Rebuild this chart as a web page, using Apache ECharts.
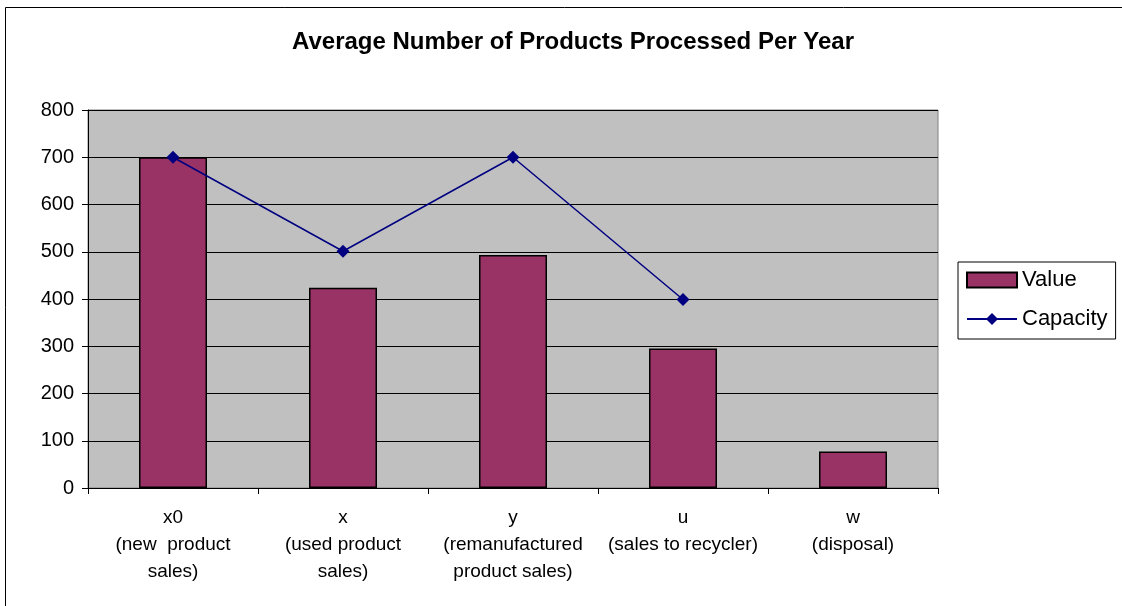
<!DOCTYPE html>
<html><head><meta charset="utf-8">
<script src="https://cdn.jsdelivr.net/npm/echarts@6/dist/echarts.min.js"></script>
<style>html,body{margin:0;padding:0;background:#fff}#c{width:1122px;height:606px}</style>
</head><body><div id="c"></div>
<script>
const categories = ['x0\n(new  product\nsales)', 'x\n(used product\nsales)', 'y\n(remanufactured\nproduct sales)', 'u\n(sales to recycler)', 'w\n(disposal)'];
const valueData = [700, 424, 493, 295, 77];
const capacityData = [700, 501, 700, 399, null];
const yTicks = {min: 0, max: 800, interval: 100};

const chart = echarts.init(document.getElementById('c'), null, {renderer: 'canvas'});
const font = '"Liberation Sans", Arial, sans-serif';
chart.setOption({
  animation: false,
  backgroundColor: '#fff',
  textStyle: {fontFamily: font},
  title: {
    text: 'Average Number of Products Processed Per Year',
    left: 568, top: 25, textAlign: 'center',
    textStyle: {fontFamily: font, fontSize: 24, fontWeight: 'bold', color: '#000'}
  },
  graphic: [{
    type: 'rect', shape: {x: 5.5, y: 7.5, width: 1130, height: 620},
    style: {fill: 'none', stroke: '#000', lineWidth: 1}, silent: true, z: -1
  }],
  legend: {
    orient: 'vertical', left: 958, top: 262,
    padding: [7, 8, 9, 8], itemGap: 17, itemTextGap: 6,
    itemWidth: 50, itemHeight: 15,
    borderColor: '#000', borderWidth: 1,
    textStyle: {fontFamily: font, fontSize: 22, color: '#000'},
    data: [{name: 'Value', icon: 'rect'}, {name: 'Capacity'}]
  },
  grid: {
    left: 88, right: 184, top: 110, bottom: 118,
    show: true, backgroundColor: '#C0C0C0', borderColor: '#808080', borderWidth: 1
  },
  xAxis: {
    type: 'category', data: categories, boundaryGap: true,
    axisLine: {lineStyle: {color: '#000', width: 1}},
    axisTick: {show: true, length: 6, lineStyle: {color: '#000'}},
    axisLabel: {fontFamily: font, fontSize: 19, color: '#000', lineHeight: 27, margin: 16, interval: 0}
  },
  yAxis: {
    type: 'value', min: yTicks.min, max: yTicks.max, interval: yTicks.interval,
    axisLine: {show: true, lineStyle: {color: '#000', width: 1}},
    axisTick: {show: true, length: 6, lineStyle: {color: '#000'}},
    splitLine: {lineStyle: {color: '#000', width: 1}},
    axisLabel: {fontFamily: font, fontSize: 20, color: '#000', margin: 14}
  },
  series: [{
    name: 'Value', type: 'bar', data: valueData, barWidth: '40%',
    itemStyle: {color: '#993366', borderColor: '#000', borderWidth: 1.5}
  }, {
    name: 'Capacity', type: 'line', data: capacityData,
    symbol: 'diamond', symbolSize: 13, connectNulls: false,
    lineStyle: {color: '#000080', width: 1.5},
    itemStyle: {color: '#000080'}
  }]
});
</script></body></html>
